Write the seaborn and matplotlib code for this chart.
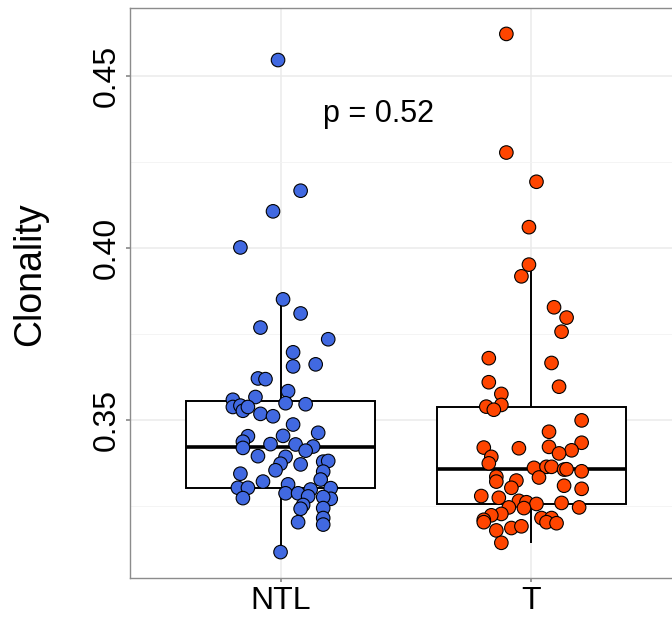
import numpy as np
import pandas as pd
import matplotlib
matplotlib.use("Agg")
import matplotlib.pyplot as plt
from matplotlib.ticker import MultipleLocator
import seaborn as sns

# ------------------------------------------------------------
# data
# ------------------------------------------------------------
groups = ["NTL", "T"]
colors = {"NTL": "#4169E1", "T": "#FF4500"}

ntl_values = [
    0.4546, 0.4166, 0.4106, 0.4001, 0.3850, 0.3809, 0.3768, 0.3734, 0.3696,
    0.3655, 0.3661, 0.3620, 0.3618, 0.3583, 0.3558, 0.3566, 0.3548, 0.3545,
    0.3537, 0.3541, 0.3526, 0.3537, 0.3517, 0.3510, 0.3486, 0.3462, 0.3452,
    0.3453, 0.3436, 0.3418, 0.3429, 0.3428, 0.3422, 0.3410, 0.3394, 0.3392,
    0.3372, 0.3370, 0.3378, 0.3380, 0.3353, 0.3343, 0.3349, 0.3326, 0.3320,
    0.3302, 0.3302, 0.3312, 0.3297, 0.3301, 0.3286, 0.3286, 0.3272, 0.3277,
    0.3270, 0.3275, 0.3252, 0.3241, 0.3243, 0.3214, 0.3195, 0.3202, 0.3115,
]
# horizontal jitter of each point as seen in the picture (category units)
ntl_jitter = [
    -0.01, 0.08, -0.03, -0.16, 0.01, 0.08, -0.08, 0.19, 0.05,
    0.05, 0.14, -0.09, -0.06, 0.03, -0.19, -0.10, 0.02, 0.10,
    -0.19, -0.16, -0.15, -0.13, -0.08, -0.03, 0.05, 0.15, -0.13,
    0.01, -0.15, -0.15, -0.04, 0.06, 0.13, 0.10, -0.09, 0.02,
    0.00, 0.08, 0.17, 0.19, -0.02, -0.16, 0.17, 0.16, -0.07,
    -0.17, -0.13, 0.03, 0.12, 0.20, 0.02, 0.07, -0.15, 0.11,
    0.20, 0.17, 0.09, 0.08, 0.17, 0.17, 0.17, 0.07, 0.00,
]

t_values = [
    0.4622, 0.4277, 0.4192, 0.4060, 0.3951, 0.3917, 0.3827, 0.3797, 0.3756,
    0.3679, 0.3665, 0.3609, 0.3596, 0.3575, 0.3543, 0.3538, 0.3529, 0.3498,
    0.3465, 0.3433, 0.3419, 0.3417, 0.3421, 0.3411, 0.3402, 0.3392, 0.3373,
    0.3360, 0.3363, 0.3363, 0.3355, 0.3356, 0.3350, 0.3332, 0.3334, 0.3320,
    0.3323, 0.3302, 0.3308, 0.3299, 0.3278, 0.3273, 0.3264, 0.3260, 0.3255,
    0.3258, 0.3243, 0.3245, 0.3245, 0.3226, 0.3222, 0.3209, 0.3202, 0.3214,
    0.3214, 0.3202, 0.3199, 0.3178, 0.3185, 0.3190, 0.3142,
]
t_jitter = [
    -0.10, -0.10, 0.02, -0.01, -0.01, -0.04, 0.09, 0.14, 0.12,
    -0.17, 0.08, -0.17, 0.11, -0.12, -0.12, -0.18, -0.15, 0.20,
    0.07, 0.20, -0.19, -0.05, 0.07, 0.16, 0.11, -0.16, -0.17,
    0.01, 0.06, 0.08, 0.13, 0.14, 0.20, 0.03, -0.14, -0.14,
    -0.06, -0.08, 0.13, 0.20, -0.20, -0.13, -0.05, -0.02, 0.02,
    0.12, -0.03, -0.09, 0.19, -0.12, -0.16, -0.19, -0.19, 0.04,
    0.08, 0.06, 0.10, -0.14, -0.08, -0.04, -0.12,
]

p_label = "p = 0.52"

df = pd.DataFrame({
    "group": ["NTL"] * len(ntl_values) + ["T"] * len(t_values),
    "Clonality": ntl_values + t_values,
    "jitter": ntl_jitter + t_jitter,
})
df["group"] = pd.Categorical(df["group"], categories=groups)
df["xpos"] = df["group"].cat.codes + df["jitter"]

# ------------------------------------------------------------
# plot
# ------------------------------------------------------------
sns.set_theme(style="white")
plt.rcParams["font.family"] = ["Liberation Sans", "DejaVu Sans"]
plt.rcParams["text.color"] = "black"
plt.rcParams["axes.labelcolor"] = "black"

fig = plt.figure(figsize=(6.72, 6.23), dpi=100)
ax = fig.add_axes([130 / 672, 45 / 623, 552 / 672, 570 / 623])

sns.boxplot(data=df, x="group", y="Clonality", order=groups, width=0.75,
            color="white", linecolor="black", linewidth=1.4,
            showfliers=False, showcaps=False,
            medianprops=dict(linewidth=2.6), ax=ax, zorder=2)

sns.scatterplot(data=df, x="xpos", y="Clonality", hue="group",
                palette=colors, s=95, edgecolor="black", linewidth=0.8,
                legend=False, ax=ax, zorder=3)

# ggplot-like scales
lo, hi = df["Clonality"].min(), df["Clonality"].max()
pad = (hi - lo) * 0.05
ax.set_ylim(lo - pad, hi + pad)
ax.set_xlim(-0.6, 1.6)
ax.set_xticks(range(len(groups)))
ax.set_xticklabels(groups)
ax.yaxis.set_major_locator(MultipleLocator(0.05))
ax.yaxis.set_minor_locator(MultipleLocator(0.025))
ax.yaxis.set_major_formatter(matplotlib.ticker.FormatStrFormatter("%.2f"))

ax.grid(True, which="major", color="#EBEBEB", linewidth=1.1, zorder=0)
ax.grid(True, which="minor", axis="y", color="#F2F2F2", linewidth=0.6, zorder=0)
ax.set_axisbelow(True)
for s in ax.spines.values():
    s.set_color("#8C8C8C")
    s.set_linewidth(1.0)

ax.tick_params(axis="both", which="major", length=3, color="#8C8C8C",
               labelsize=23, labelcolor="black", pad=3, bottom=True, left=True)
ax.tick_params(axis="both", which="minor", length=0)
for lab in ax.get_yticklabels():
    lab.set_rotation(90)
    lab.set_va("center")

ax.set_xlabel("")
ax.set_ylabel("Clonality", fontsize=27, color="black")
ax.yaxis.set_label_coords(-0.148, 0.533)

ax.text(0.17, 0.439, p_label, fontsize=22, ha="left", va="center", color="black")

fig.savefig("out.png", dpi=100)
